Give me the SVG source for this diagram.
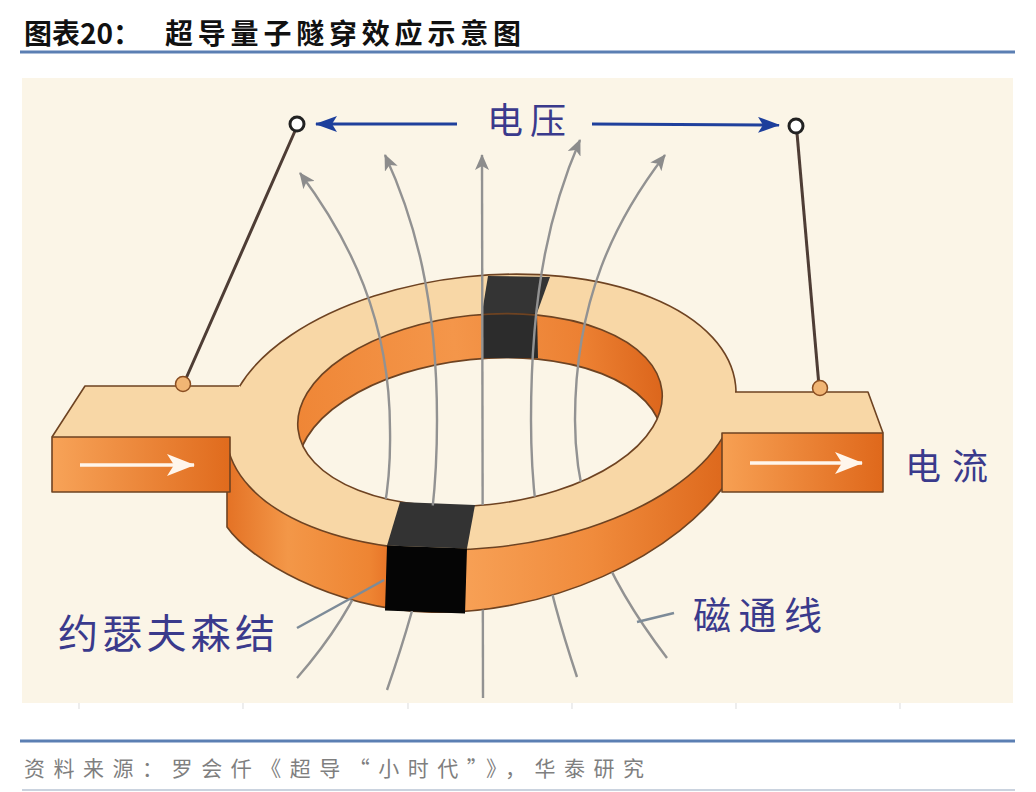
<svg xmlns="http://www.w3.org/2000/svg" width="1036" height="792" viewBox="0 0 1036 792">
<style>
.edge{stroke:#6e4322;stroke-width:1.6;stroke-linejoin:round}
.top{fill:#F8D7A6}
.flux{fill:none;stroke:#929292;stroke-width:2.4}
.lbl{font-family:"Noto Sans CJK SC","Noto Sans CJK JP",sans-serif;fill:#3a3a8c}
.wire{stroke:#4e3d35;stroke-width:3;stroke-linecap:round}
.term{fill:#fff;stroke:#222;stroke-width:3}
.dot{fill:#F1B574;stroke:#8a4e22;stroke-width:1.5}
.ptr{stroke:#7d8b98;stroke-width:2.5;fill:none}
.volt{stroke:#1f409c;stroke-width:3;fill:none}
.cur{stroke:#FFF6EC;stroke-width:3.5;fill:none}
.rule{stroke:#5b7fb3;stroke-width:3}
</style>
<defs>
<linearGradient id="sideGrad" gradientUnits="userSpaceOnUse" x1="227" y1="0" x2="735" y2="0">
<stop offset="0" stop-color="#E47225"/>
<stop offset="0.12" stop-color="#F39748"/>
<stop offset="0.28" stop-color="#EE8533"/>
<stop offset="0.31" stop-color="#E9782A"/>
<stop offset="0.47" stop-color="#F7A055"/>
<stop offset="0.72" stop-color="#F08B3C"/>
<stop offset="1" stop-color="#DC661A"/>
</linearGradient>
<linearGradient id="barL" gradientUnits="userSpaceOnUse" x1="52" y1="0" x2="230" y2="0">
<stop offset="0" stop-color="#F7A358"/>
<stop offset="1" stop-color="#E06B1D"/>
</linearGradient>
<linearGradient id="barR" gradientUnits="userSpaceOnUse" x1="722" y1="0" x2="883" y2="0">
<stop offset="0" stop-color="#F7A053"/>
<stop offset="1" stop-color="#DF681B"/>
</linearGradient>
<linearGradient id="wallGrad" gradientUnits="userSpaceOnUse" x1="297" y1="0" x2="663" y2="0">
<stop offset="0" stop-color="#EF8636"/>
<stop offset="0.45" stop-color="#F4964A"/>
<stop offset="0.8" stop-color="#EC8032"/>
<stop offset="1" stop-color="#DC661C"/>
</linearGradient>
<clipPath id="innerClip">
<ellipse cx="480" cy="410" rx="183" ry="95" transform="rotate(-6 480 410)"/>
</clipPath>
<clipPath id="upper">
<polygon points="0,0 1036,0 1036,367 0,447"/>
</clipPath>
<mask id="occ" maskUnits="userSpaceOnUse" x="0" y="0" width="1036" height="792">
<rect width="1036" height="792" fill="#fff"/>
<path d="M227,431 L227,527 C250,560 330,607 425,612 C540,617 680,560 735,470 L735,393 Z" fill="#000"/>
<ellipse cx="481" cy="412" rx="256" ry="136" transform="rotate(-6 481 412)" fill="#000"/>
<ellipse cx="481" cy="412" rx="256" ry="136" transform="rotate(-6 481 412)" fill="#fff" clip-path="url(#upper)"/>
<ellipse cx="480" cy="410" rx="183" ry="95" transform="rotate(-6 480 410)" fill="#fff"/>
</mask>
<marker id="grayHead" viewBox="0 0 16 14" markerWidth="16" markerHeight="14" refX="15" refY="7" markerUnits="userSpaceOnUse" orient="auto-start-reverse">
<path d="M0,0 L16,7 L0,14 L4,7 Z" fill="#8c8c8c"/>
</marker>
<marker id="blueHead" viewBox="0 0 22 16" markerWidth="22" markerHeight="16" refX="21" refY="8" markerUnits="userSpaceOnUse" orient="auto">
<path d="M0,0 L22,8 L0,16 L5,8 Z" fill="#1d3f9c"/>
</marker>
<marker id="whiteHead" viewBox="0 0 28 22" markerWidth="28" markerHeight="22" refX="27" refY="11" markerUnits="userSpaceOnUse" orient="auto">
<path d="M0,0 L28,11 L0,22 L7,11 Z" fill="#FFF6EC"/>
</marker>
</defs>

<g id="page">
<rect width="1036" height="792" fill="#fff"/>
<line class="rule" x1="20" y1="52" x2="1015" y2="52"/>
<rect id="panel" x="22" y="78" width="991" height="625" fill="#FBF5E7"/>
<g stroke="#e2e2e2" stroke-width="1.2">
<line x1="79" y1="703" x2="79" y2="709"/>
<line x1="243" y1="703" x2="243" y2="709"/>
<line x1="408" y1="703" x2="408" y2="709"/>
<line x1="572" y1="703" x2="572" y2="709"/>
<line x1="736" y1="703" x2="736" y2="709"/>
<line x1="900" y1="703" x2="900" y2="709"/>
</g>
<line class="rule" x1="20" y1="741" x2="1015" y2="741"/>
<line x1="22" y1="790" x2="1015" y2="790" stroke="#b9c5d5" stroke-width="1.5"/>
</g>

<g id="title">
<text x="24" y="44" font-family="'Noto Sans CJK SC','Noto Sans CJK JP',sans-serif" font-weight="700" font-size="28" fill="#111">图表20：</text>
<text x="165" y="44" font-family="'Noto Sans CJK SC','Noto Sans CJK JP',sans-serif" font-weight="700" font-size="28" fill="#111" textLength="356" lengthAdjust="spacing">超导量子隧穿效应示意图</text>
</g>

<g id="ring">
<path class="edge" d="M227,431 L227,527 C250,560 330,607 425,612 C540,617 680,560 735,470 L735,393 Z" fill="url(#sideGrad)"/>
<ellipse class="top edge" cx="481" cy="412" rx="256" ry="136" transform="rotate(-6 481 412)"/>
<ellipse cx="480" cy="410" rx="183" ry="95" transform="rotate(-6 480 410)" fill="url(#wallGrad)"/>
<g clip-path="url(#innerClip)">
<ellipse cx="480" cy="454" rx="183" ry="95" transform="rotate(-6 480 454)" fill="#FBF5E7" stroke="#6e4322" stroke-width="1.8"/>
</g>
</g>

<g id="junction-top">
<polygon points="488,276 550,277 537,313 482,313" fill="#343434"/>
<polygon points="482,313 537,313 538,358 483,358" fill="#2c2c2c"/>
</g>

<g id="ring-inner-edge">
<ellipse cx="480" cy="410" rx="183" ry="95" transform="rotate(-6 480 410)" fill="none" stroke="#6e4322" stroke-width="1.6"/>
</g>

<g id="junction-bottom">
<polygon points="400,502 475,505 467,548.5 387,545.5" fill="#333"/>
<polygon points="387,545.5 467,548.5 465,613.5 385,610.5" fill="#050505"/>
</g>

<g id="bar-left">
<polygon points="52,437 85,386 240,386 240,437" class="top"/>
<polyline class="edge" points="52,437 85,386 239,386" fill="none"/>
<rect class="edge" x="52" y="437" width="178" height="55" fill="url(#barL)"/>
<line class="cur" x1="80" y1="465" x2="194" y2="465" marker-end="url(#whiteHead)"/>
</g>

<g id="bar-right">
<polygon points="718,392 868,392 883,433 718,433" class="top"/>
<polyline class="edge" points="735,392 868,392 883,433" fill="none"/>
<rect class="edge" x="722" y="433" width="161" height="59" fill="url(#barR)"/>
<line class="cur" x1="750" y1="463" x2="862" y2="463" marker-end="url(#whiteHead)"/>
</g>

<g id="connectors">
<g id="flux-lines" mask="url(#occ)">
<path class="flux" d="M300,173 C350,240 390,320 390,430 C392,530 365,600 297,678" marker-start="url(#grayHead)"/>
<path class="flux" d="M385,155 C415,220 437,300 437,420 C437,520 425,580 387,690" marker-start="url(#grayHead)"/>
<path class="flux" d="M482,155 L483,698" marker-start="url(#grayHead)"/>
<path class="flux" d="M580,140 C552,205 531,285 531,420 C531,510 543,575 577,677" marker-start="url(#grayHead)"/>
<path class="flux" d="M665,155 C615,220 575,300 575,420 C575,500 600,570 667,658" marker-start="url(#grayHead)"/>
</g>
<line class="volt" x1="457" y1="124" x2="316" y2="124" marker-end="url(#blueHead)"/>
<line class="volt" x1="592" y1="124" x2="779" y2="125" marker-end="url(#blueHead)"/>
<line class="ptr" x1="297" y1="628" x2="384" y2="580"/>
<line class="ptr" x1="637" y1="622" x2="674" y2="613"/>
</g>

<g id="terminal-left">
<line class="wire" x1="295" y1="131" x2="184" y2="383"/>
<circle class="term" cx="297" cy="124" r="7"/>
<circle class="dot" cx="183" cy="384" r="7.5"/>
</g>
<g id="terminal-right">
<line class="wire" x1="797" y1="133" x2="819" y2="386"/>
<circle class="term" cx="796" cy="126" r="7"/>
<circle class="dot" cx="820" cy="388" r="7.5"/>
</g>

<g id="labels">
<text class="lbl" x="487" y="134" font-size="36" textLength="79" lengthAdjust="spacing">电压</text>
<text class="lbl" x="905" y="480" font-size="36" textLength="83" lengthAdjust="spacing">电流</text>
<text class="lbl" x="58" y="648" font-size="40" textLength="217" lengthAdjust="spacing">约瑟夫森结</text>
<text class="lbl" x="693" y="629" font-size="38" textLength="129" lengthAdjust="spacing">磁通线</text>
</g>

<g id="source">
<text x="24" y="776" font-family="'Noto Sans CJK SC','Noto Sans CJK JP',sans-serif" font-size="21" fill="#7f7f7f" textLength="620" lengthAdjust="spacing">资料来源：罗会仟《超导“小时代”》，华泰研究</text>
</g>
</svg>
